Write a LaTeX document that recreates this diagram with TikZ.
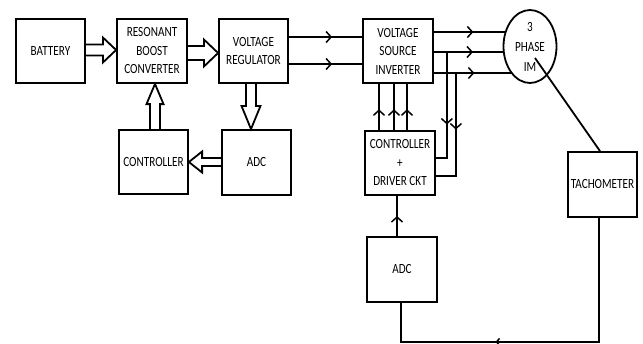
\documentclass[tikz,border=0pt]{standalone}
\usepackage{fontspec}
\setmainfont{Carlito}[FakeStretch=0.8]
\usetikzlibrary{calc,decorations.markings,arrows.meta,shapes.geometric}
\begin{document}
\begin{tikzpicture}[x=1pt,y=-1pt,line width=1.8pt,
  blk/.style={draw,rectangle,minimum width=69pt,minimum height=64pt,inner sep=0pt,align=center,font=\fontsize{14}{18.5}\selectfont},
  hollow/.style={draw,line width=1.8pt,line join=miter},
  midarrow/.style={postaction={decorate},decoration={markings,mark=at position #1 with {\arrow{Straight Barb[length=5pt,width=11pt,line width=1.5pt]}}}},
  smallarrow/.style={postaction={decorate},decoration={markings,mark=at position #1 with {\arrow{Straight Barb[length=3pt,width=7pt,line width=1.5pt]}}}},
]
\useasboundingbox (0,0) rectangle (643,343);
\node[blk] (battery) at (50.5,51) {BATTERY};
\node[blk,minimum width=70pt] (rbc) at (152,51) {RESONANT\\BOOST\\CONVERTER};
\node[blk] (vr) at (253.5,51) {VOLTAGE\\REGULATOR};
\node[blk] (ctrl) at (153.5,162) {CONTROLLER};
\node[blk,minimum height=65pt] (adc1) at (256.5,162.5) {ADC};
\node[blk,minimum width=70pt] (vsi) at (398,51) {VOLTAGE\\SOURCE\\INVERTER};
\node[blk,minimum width=70pt] (cdrv) at (400,163) {CONTROLLER\\+\\DRIVER CKT};
\node[blk,minimum width=70pt,minimum height=65pt] (adc2) at (402,269.5) {ADC};
\node[blk,minimum height=65pt] (tach) at (602.5,184.5) {TACHOMETER};
\node[draw,ellipse,minimum width=53pt,minimum height=73pt,inner sep=0pt,align=center,font=\fontsize{14}{20}\selectfont] (motor) at (530,46.5) {3\\PHASE\\IM};

% hollow arrows
\draw[hollow] ($(battery.east)+(0,-6.5)$) -- ++(17,0) -- ++(0,-7) -- ($(rbc.west)+(0,-1)$) -- ($(battery.east)+(17,11.5)$) -- ++(0,-7) -- ++(-17,0);
\draw[hollow] ($(rbc.east)+(0,-5)$) -- ++(16,0) -- ++(0,-6.5) -- ($(vr.west)+(0,2)$) -- ($(rbc.east)+(16,15.5)$) -- ++(0,-6.5) -- ++(-16,0);
\draw[hollow] ($(ctrl.north)+(-3.5,0)$) -- ++(0,-25) -- ++(-3.5,0) -- ($(rbc.south)+(3,0)$) -- ($(ctrl.north)+(10,-25)$) -- ++(-3.5,0) -- ++(0,25);
\draw[hollow] ($(vr.south)+(-7.5,0)$) -- ++(0,22) -- ++(-4.5,0) -- ($(adc1.north)+(-5.5,0)$) -- ($(vr.south)+(7,22)$) -- ++(-4.5,0) -- ++(0,-22);
\draw[hollow] ($(adc1.west)+(0,-4.5)$) -- ++(-19,0) -- ++(0,-6.5) -- (ctrl.east) -- ($(adc1.west)+(-19,10)$) -- ++(0,-6.5) -- ++(19,0);

% VR -> VSI
\draw[midarrow=0.59] ($(vr.east)+(0,-14)$) -- ($(vsi.west)+(0,-14)$);
\draw[midarrow=0.59] ($(vr.east)+(0,13)$) -- ($(vsi.west)+(0,13)$);

% VSI -> motor
\coordinate (m1) at ($(motor.center)+(-24.3,-14.5)$);
\coordinate (m2) at ($(motor.center)+(-26.2,5.5)$);
\coordinate (m3) at ($(motor.center)+(-18.2,26.5)$);
\draw[midarrow=0.55] (m1 -| vsi.east) -- (m1);
\draw[midarrow=0.56] (m2 -| vsi.east) -- (m2);
\draw[midarrow=0.52] (m3 -| vsi.east) -- (m3);

% feedback from lines to controller
\coordinate (f1) at ($(vsi.east |- m2)+(13,0)$);
\coordinate (f2) at ($(vsi.east |- m3)+(22,0)$);
\draw[midarrow=0.62] (f1) -- ($(f1 |- cdrv.east)+(0,-5)$) -- ($(cdrv.east)+(0,-5)$);
\draw[midarrow=0.46] (f2) -- ($(f2 |- cdrv.east)+(0,13)$) -- ($(cdrv.east)+(0,13)$);

% controller -> VSI
\coordinate (u1) at ($(cdrv.north)+(-21,0)$);
\coordinate (u2) at ($(cdrv.north)+(-6,0)$);
\coordinate (u3) at ($(cdrv.north)+(7,0)$);
\draw[midarrow=0.45] (u1) -- (u1 |- vsi.south);
\draw[midarrow=0.45] (u2) -- (u2 |- vsi.south);
\draw[midarrow=0.45] (u3) -- (u3 |- vsi.south);

% ADC2 -> controller
\coordinate (a2) at ($(adc2.north)+(-5,0)$);
\draw[midarrow=0.5] (a2) -- (a2 |- cdrv.south);

% motor -> tachometer
\draw ($(motor.center)+(5,11.5)$) -- ($(tach.north)+(-2.5,0)$);

% tachometer -> ADC2
\coordinate (t1) at ($(tach.south)+(-3.5,0)$);
\coordinate (t2) at ($(adc2.south)+(-1,0)$);
\draw[smallarrow=0.63] (t1) -- ($(t1)+(0,124)$) -- ($(t2)+(0,39)$) -- (t2);
\end{tikzpicture}
\end{document}
